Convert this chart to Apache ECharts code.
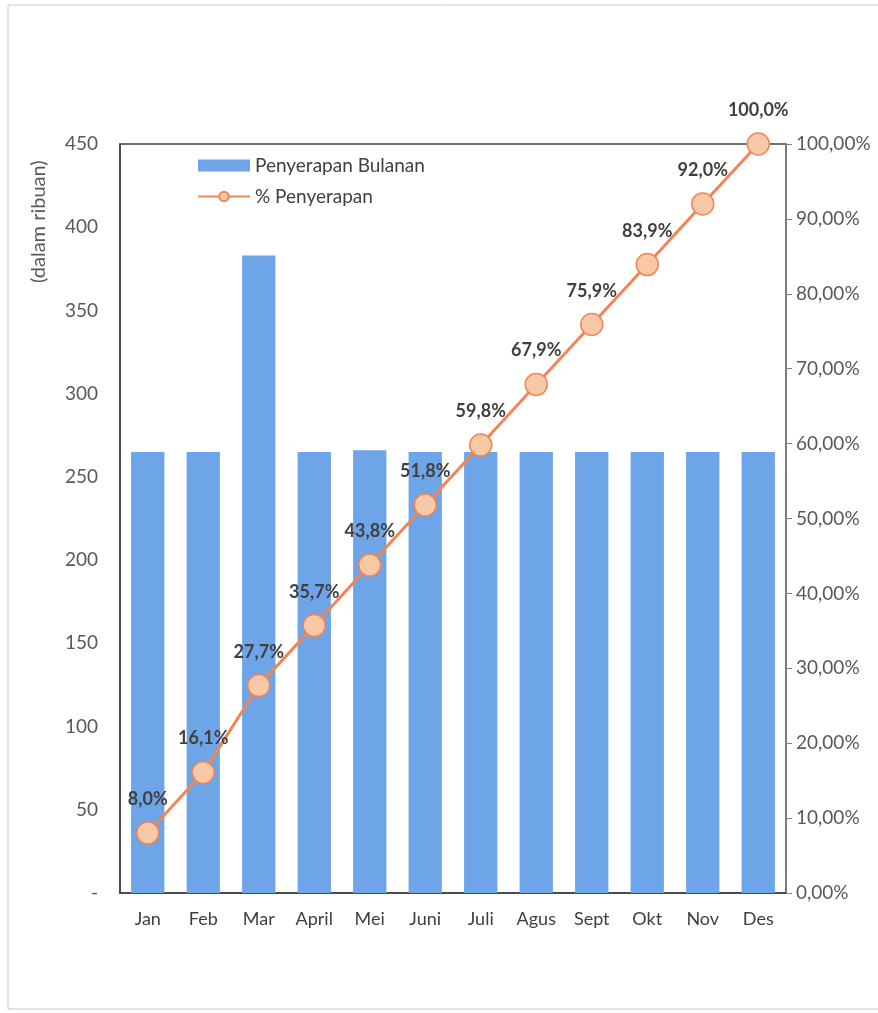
<!DOCTYPE html>
<html>
<head>
<meta charset="utf-8">
<script src="https://cdn.jsdelivr.net/npm/echarts@6/dist/echarts.min.js"></script>
<style>
html, body { margin: 0; padding: 0; background: #fff; }
#chart { width: 878px; height: 1013px; }
</style>
</head>
<body>
<div id="chart"></div>
<script>
var months = ['Jan', 'Feb', 'Mar', 'April', 'Mei', 'Juni', 'Juli', 'Agus', 'Sept', 'Okt', 'Nov', 'Des'];
var bulanan = [265, 265, 383, 265, 266, 265, 265, 265, 265, 265, 265, 265];
var persen = [8.0, 16.1, 27.7, 35.7, 43.8, 51.8, 59.8, 67.9, 75.9, 83.9, 92.0, 100.0];

var font = 'Lato, "Open Sans", sans-serif';
var myChart = echarts.init(document.getElementById('chart'));

var option = {
    backgroundColor: '#fff',
    textStyle: { fontFamily: font },
    graphic: [{
        type: 'rect',
        shape: { x: 8, y: 5, width: 880, height: 1004 },
        style: { fill: 'none', stroke: '#c8c8c8', lineWidth: 1 }
    }, {
        type: 'text',
        x: 29,
        y: 283,
        rotation: Math.PI / 2,
        style: {
            text: '(dalam ribuan)',
            fill: '#595959',
            font: '20px ' + font
        }
    }],
    legend: {
        orient: 'vertical',
        left: 192,
        top: 151,
        itemGap: 12,
        textStyle: { color: '#404040', fontSize: 19, fontFamily: font },
        data: [
            { name: 'Penyerapan Bulanan', icon: 'rect', itemWidth: 52, itemHeight: 11 },
            { name: '% Penyerapan' }
        ],
        itemWidth: 52,
        itemHeight: 12
    },
    grid: {
        left: 120,
        right: 92,
        top: 144,
        bottom: 120,
        show: true,
        borderColor: '#404040',
        borderWidth: 1.5
    },
    xAxis: {
        type: 'category',
        data: months,
        axisLine: { lineStyle: { color: '#404040', width: 1.5 } },
        axisTick: { show: false },
        axisLabel: { color: '#404040', fontSize: 18, margin: 17 }
    },
    yAxis: [{
        type: 'value',
        min: 0,
        max: 450,
        interval: 50,
        splitLine: { show: false },
        axisLine: { show: true, lineStyle: { color: '#404040', width: 1.5 } },
        axisTick: { show: false },
        axisLabel: {
            color: '#595959',
            fontSize: 19,
            margin: 22,
            formatter: function (v) { return v === 0 ? '-' : v; }
        }
    }, {
        type: 'value',
        min: 0,
        max: 100,
        interval: 10,
        position: 'right',
        splitLine: { show: false },
        axisLine: { show: true, lineStyle: { color: '#7f7f7f', width: 1.5 } },
        axisTick: { show: true, length: 6, lineStyle: { color: '#7f7f7f' } },
        axisLabel: {
            color: '#595959',
            fontSize: 19,
            margin: 10,
            formatter: function (v) { return v.toFixed(2).replace('.', ',') + '%'; }
        }
    }],
    series: [{
        name: 'Penyerapan Bulanan',
        type: 'bar',
        data: bulanan,
        barWidth: '60%',
        itemStyle: { color: '#6da5e8' }
    }, {
        name: '% Penyerapan',
        type: 'line',
        yAxisIndex: 1,
        data: persen,
        symbol: 'circle',
        symbolSize: 22,
        lineStyle: { color: '#f08655', width: 3 },
        itemStyle: { color: '#f9c8a6', borderColor: '#f08655', borderWidth: 1.5 },
        label: {
            show: true,
            position: 'top',
            distance: 13,
            color: '#404040',
            fontWeight: 'bold',
            fontSize: 18,
            formatter: function (p) { return p.value.toFixed(1).replace('.', ',') + '%'; }
        }
    }]
};

myChart.setOption(option);
</script>
</body>
</html>
